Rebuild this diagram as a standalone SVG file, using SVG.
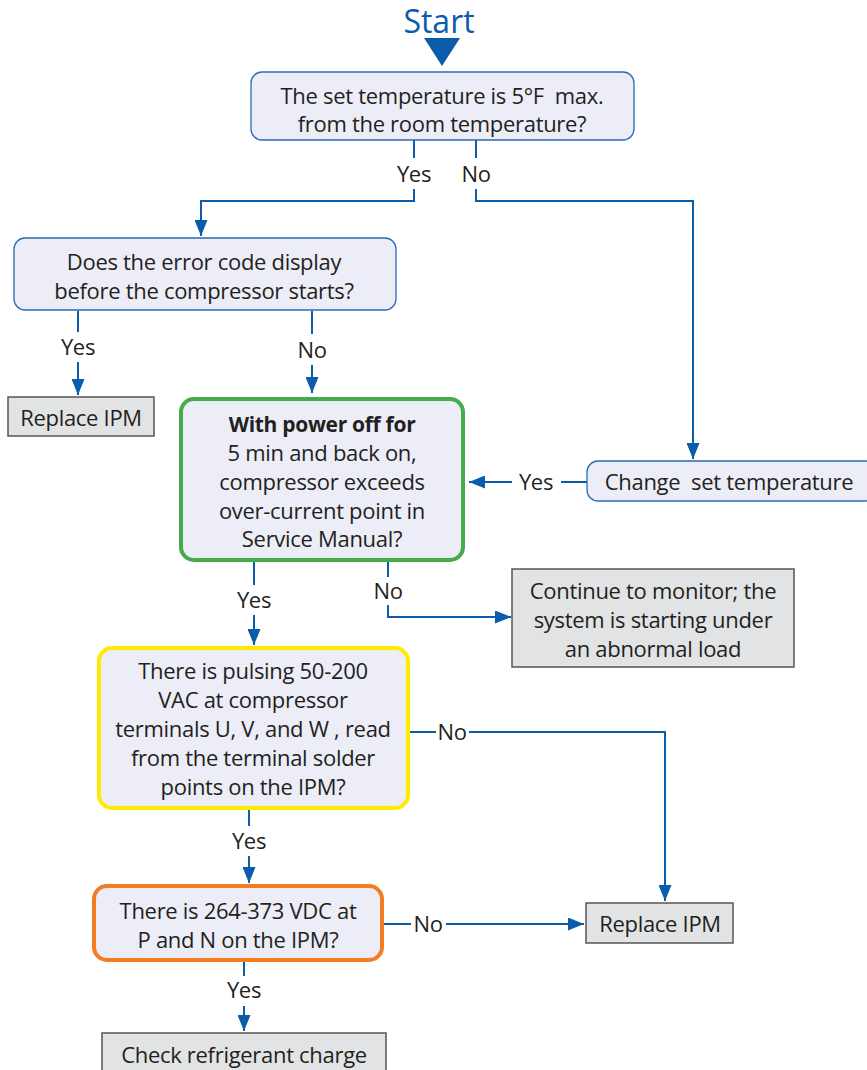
<svg xmlns="http://www.w3.org/2000/svg" width="867" height="1070" viewBox="0 0 867 1070">
  <style>
    .t { font-family: "Open Sans", "Noto Sans", sans-serif; font-size: 22px; fill: #231f20; text-anchor: middle; letter-spacing: -0.3px; white-space: pre; }
    .b { font-weight: bold; font-size: 21px; }
    .q { fill: #ecedf7; stroke: #2a6bb8; stroke-width: 1.3; }
    .g { fill: #e2e3e5; stroke: #555; stroke-width: 1.5; }
    .c { fill: none; stroke: #0b5cab; stroke-width: 2; }
    .lbl { font-family: "Open Sans", "Noto Sans", sans-serif; font-size: 22px; fill: #231f20; text-anchor: middle; letter-spacing: -0.3px; }
  </style>
  <defs>
    <marker id="ah" viewBox="0 0 16 13" refX="16" refY="6.5" markerWidth="16" markerHeight="13" markerUnits="userSpaceOnUse" orient="auto">
      <path d="M0,0 L16,6.5 L0,13 z" fill="#0b5cab"/>
    </marker>
  </defs>

  <!-- start marker -->
  <g id="start">
    <text x="439" y="33" font-family="'Open Sans', 'Noto Sans', sans-serif" font-size="32" fill="#0b5cab" text-anchor="middle">Start</text>
    <polygon points="424,38 460,38 442,66" fill="#0b5cab"/>
  </g>

  <!-- connectors -->
  <g id="connectors">
    <path class="c" d="M414,140 V158 M414,189 V201 H201 V236" marker-end="url(#ah)"/>
    <path class="c" d="M476,140 V158 M476,189 V201 H693 V459" marker-end="url(#ah)"/>
    <path class="c" d="M78,311 V332 M78,362 V395" marker-end="url(#ah)"/>
    <path class="c" d="M312,311 V334 M312,365 V393" marker-end="url(#ah)"/>
    <path class="c" d="M587,482 H561 M512,482 H469" marker-end="url(#ah)"/>
    <path class="c" d="M254,562 V585 M254,615 V645" marker-end="url(#ah)"/>
    <path class="c" d="M388,562 V577 M388,605 V617 H511" marker-end="url(#ah)"/>
    <path class="c" d="M410,732 H436 M469,732 H665 V901" marker-end="url(#ah)"/>
    <path class="c" d="M249,810 V826 M249,856 V883" marker-end="url(#ah)"/>
    <path class="c" d="M384,924 H411 M446,924 H584" marker-end="url(#ah)"/>
    <path class="c" d="M244,962 V976 M244,1006 V1031" marker-end="url(#ah)"/>
    <text class="lbl" x="414" y="182">Yes</text>
    <text class="lbl" x="476" y="182">No</text>
    <text class="lbl" x="78" y="355">Yes</text>
    <text class="lbl" x="312" y="358">No</text>
    <text class="lbl" x="536" y="490">Yes</text>
    <text class="lbl" x="254" y="608">Yes</text>
    <text class="lbl" x="388" y="599">No</text>
    <text class="lbl" x="452" y="740">No</text>
    <text class="lbl" x="249" y="849">Yes</text>
    <text class="lbl" x="428" y="932">No</text>
    <text class="lbl" x="244" y="998">Yes</text>
  </g>

  <g id="q-set-temp">
    <rect class="q" x="251" y="72" width="383" height="68" rx="11"/>
    <text class="t" x="442" y="104">The set temperature is 5°F  max.</text>
    <text class="t" x="442" y="132">from the room temperature?</text>
  </g>

  <g id="q-error-code">
    <rect class="q" x="14" y="238" width="382" height="72" rx="11"/>
    <text class="t" x="204" y="270">Does the error code display</text>
    <text class="t" x="204" y="299">before the compressor starts?</text>
  </g>

  <g id="replace-ipm-1">
    <rect class="g" x="8" y="397" width="146" height="39"/>
    <text class="t" x="81" y="426">Replace IPM</text>
  </g>

  <g id="q-overcurrent">
    <rect x="181" y="399" width="282" height="161" rx="13" fill="#ecedf7" stroke="#45ab4b" stroke-width="4"/>
    <text class="t b" x="322" y="432">With power off for</text>
    <text class="t" x="322" y="461">5 min and back on,</text>
    <text class="t" x="322" y="490">compressor exceeds</text>
    <text class="t" x="322" y="519">over-current point in</text>
    <text class="t" x="322" y="547">Service Manual?</text>
  </g>

  <g id="change-set-temp">
    <rect class="q" x="587" y="461" width="290" height="40" rx="11"/>
    <text class="t" x="729" y="490">Change  set temperature</text>
  </g>

  <g id="continue-monitor">
    <rect class="g" x="512" y="569" width="282" height="98"/>
    <text class="t" x="653" y="599">Continue to monitor; the</text>
    <text class="t" x="653" y="628">system is starting under</text>
    <text class="t" x="653" y="657">an abnormal load</text>
  </g>

  <g id="q-pulsing-vac">
    <rect x="99" y="648" width="309" height="160" rx="13" fill="#ecedf7" stroke="#ffeb00" stroke-width="4"/>
    <text class="t" x="253" y="679">There is pulsing 50-200</text>
    <text class="t" x="253" y="708">VAC at compressor</text>
    <text class="t" x="253" y="737">terminals U, V, and W , read</text>
    <text class="t" x="253" y="766">from the terminal solder</text>
    <text class="t" x="253" y="795">points on the IPM?</text>
  </g>

  <g id="q-vdc">
    <rect x="94" y="886" width="288" height="74" rx="13" fill="#ecedf7" stroke="#f27d22" stroke-width="4"/>
    <text class="t" x="238" y="919">There is 264-373 VDC at</text>
    <text class="t" x="238" y="948">P and N on the IPM?</text>
  </g>

  <g id="replace-ipm-2">
    <rect class="g" x="586" y="903" width="147" height="40"/>
    <text class="t" x="660" y="932">Replace IPM</text>
  </g>

  <g id="check-refrigerant">
    <rect class="g" x="102" y="1033" width="284" height="45"/>
    <text class="t" x="244" y="1063">Check refrigerant charge</text>
  </g>
</svg>
